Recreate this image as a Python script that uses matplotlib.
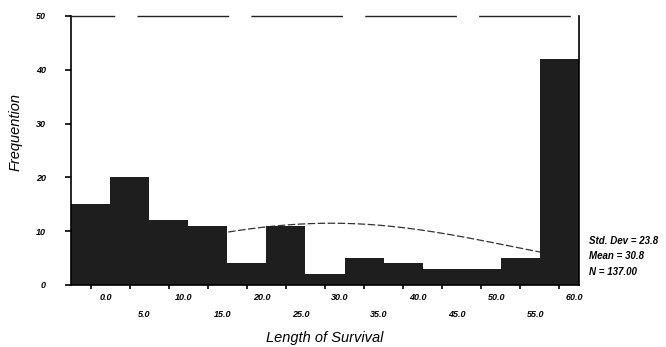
import numpy as np
import matplotlib
matplotlib.use('Agg')
import matplotlib.pyplot as plt
from matplotlib.transforms import ScaledTranslation

# binned survival lengths (bin centres and counts)
binCentres = [0, 5, 10, 15, 20, 25, 30, 35, 40, 45, 50, 55, 60]
counts = [15, 20, 12, 11, 4, 11, 2, 5, 4, 3, 3, 5, 42]
tickLabels = ['0.0', '5.0', '10.0', '15.0', '20.0', '25.0', '30.0',
              '35.0', '40.0', '45.0', '50.0', '55.0', '60.0']
yTicks = [0, 10, 20, 30, 40, 50]

stdDev = 23.8
mean = 30.8
n = 137.00
binWidth = 5

plt.rcParams['font.family'] = ['Liberation Sans', 'DejaVu Sans']

fig = plt.figure(figsize=(6.66, 3.47), dpi=100)
ax = fig.add_axes([0.1066, 0.1787, 0.7628, 0.7752])

# normal curve behind the bars
xs = np.linspace(binCentres[0] - binWidth / 2, binCentres[-1] + binWidth / 2, 300)
curve = n * binWidth / (stdDev * np.sqrt(2 * np.pi)) * np.exp(-0.5 * ((xs - mean) / stdDev) ** 2)
ax.plot(xs, curve, color='#333333', lw=0.9, ls=(0, (6, 2)), zorder=1)

ax.bar(binCentres, counts, width=binWidth, color='#1e1e1e', edgecolor='none', zorder=2)

ax.set_xlim(binCentres[0] - binWidth / 2, binCentres[-1] + binWidth / 2)
ax.set_ylim(0, 50)

ax.spines['top'].set_linestyle((34, (65, 17)))
ax.spines['top'].set_color('#222222')
ax.spines['top'].set_linewidth(1.0)
for side in ['left', 'right', 'bottom']:
    ax.spines[side].set_color('black')
    ax.spines[side].set_linewidth(1.2)

ax.set_yticks(yTicks)
ax.set_yticklabels([str(v) for v in yTicks], fontsize=6.5, style='italic', fontweight='bold')
ax.tick_params(axis='y', length=4, width=1.2, pad=14)

ax.set_xticks(binCentres)
ax.set_xticklabels([])
ax.tick_params(axis='x', length=3, width=1.2)

# staggered x labels, shifted a little right of their ticks
xform = ax.get_xaxis_transform() + ScaledTranslation(0.15, 0, fig.dpi_scale_trans)
for i, (c, lab) in enumerate(zip(binCentres, tickLabels)):
    yPos = -0.045 if i % 2 == 0 else -0.11
    ax.text(c, yPos, lab, transform=xform, ha='center', va='center',
            fontsize=6.5, style='italic', fontweight='bold')

fig.text(0.488, 0.025, 'Length of Survival', fontsize=10.5, style='italic',
         ha='center', va='center')
ax.set_ylabel('Frequention', fontsize=10.5, style='italic')
ax.yaxis.set_label_coords(-0.095, 0.57)

# summary statistics on the right
stats = ['Std. Dev = %.1f' % stdDev, 'Mean = %.1f' % mean, 'N = %.2f' % n]
for i, s in enumerate(stats):
    fig.text(0.884, 0.305 - i * 0.044, s, fontsize=7, style='italic', fontweight='bold',
             va='center', ha='left')

fig.savefig('out.png', dpi=100)
